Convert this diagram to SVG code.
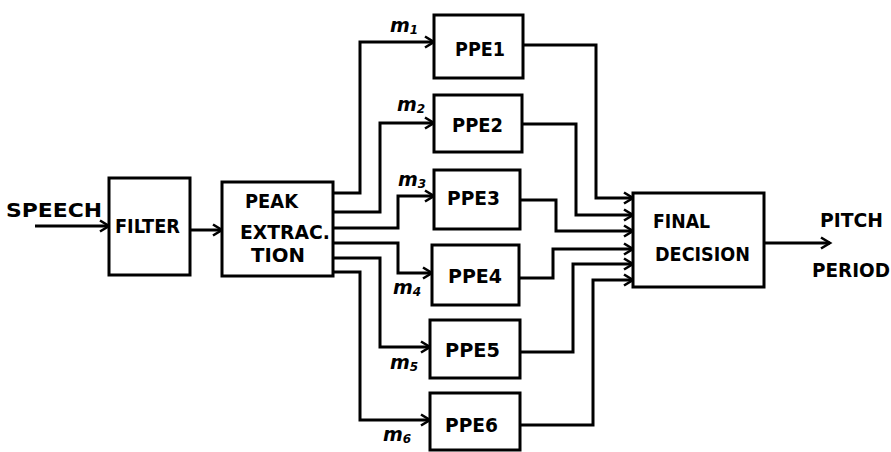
<svg xmlns="http://www.w3.org/2000/svg" width="891" height="452" viewBox="0 0 891 452">
<defs>
<marker id="arr" viewBox="-12 -8 14 16" refX="0" refY="0" markerWidth="14" markerHeight="16" markerUnits="userSpaceOnUse" orient="auto" overflow="visible">
<path d="M-9,-5.5 L0,0 L-9,5.5" fill="none" stroke="#000" stroke-width="2.6" stroke-linejoin="miter"/>
</marker>
</defs>
<style>
.box{fill:#fff;stroke:#000;stroke-width:3}
.lbl{font-family:"DejaVu Sans",sans-serif;font-weight:bold;font-size:19px;fill:#000}
.m{font-family:"DejaVu Sans",sans-serif;font-weight:bold;font-style:italic;font-size:19px;fill:#000}
.w{fill:none;stroke:#000;stroke-width:3;stroke-linejoin:miter}
.a{marker-end:url(#arr)}
</style>
<rect width="891" height="452" fill="#fff"/>
<g id="connectors">
<path class="w a" d="M35,226 L109,226"/>
<path class="w a" d="M190,230 L222,230"/>
<path class="w a" d="M333,193 L360,193 L360,42 L434,42"/>
<path class="w a" d="M333,212 L380,212 L380,123 L434,123"/>
<path class="w a" d="M333,228 L398,228 L398,196 L434,196"/>
<path class="w a" d="M333,243 L398,243 L398,273 L432,273"/>
<path class="w a" d="M333,258 L380,258 L380,347 L430,347"/>
<path class="w a" d="M333,272 L360,272 L360,420 L430,420"/>
<path class="w a" d="M523,45 L596,45 L596,198 L633,198"/>
<path class="w a" d="M522,124 L576,124 L576,215 L633,215"/>
<path class="w a" d="M520,200 L556,200 L556,231 L633,231"/>
<path class="w a" d="M519,278 L553,278 L553,249 L633,249"/>
<path class="w a" d="M520,352 L573,352 L573,264 L633,264"/>
<path class="w a" d="M520,425 L593,425 L593,280 L633,280"/>
<path class="w a" d="M764,243 L830,243"/>
</g>
<g id="speech"><text class="lbl" x="6" y="217" textLength="96" lengthAdjust="spacingAndGlyphs" font-size="23">SPEECH</text></g>
<g id="filter"><rect class="box" x="109" y="178" width="81" height="97"/><text class="lbl" x="115" y="233" textLength="65" lengthAdjust="spacingAndGlyphs">FILTER</text></g>
<g id="peak"><rect class="box" x="222" y="182" width="111" height="94"/>
<text class="lbl" x="245" y="208" textLength="53" lengthAdjust="spacingAndGlyphs">PEAK</text>
<text class="lbl" x="240" y="239" textLength="90" lengthAdjust="spacingAndGlyphs">EXTRAC.</text>
<text class="lbl" x="251" y="262" textLength="54" lengthAdjust="spacingAndGlyphs">TION</text></g>
<g id="ppe1"><rect class="box" x="434" y="15" width="89" height="63"/><text class="lbl" x="455" y="56" textLength="50" lengthAdjust="spacingAndGlyphs">PPE1</text></g>
<g id="ppe2"><rect class="box" x="434" y="95" width="88" height="57"/><text class="lbl" x="452" y="132" textLength="51" lengthAdjust="spacingAndGlyphs">PPE2</text></g>
<g id="ppe3"><rect class="box" x="434" y="170" width="86" height="59"/><text class="lbl" x="447" y="205" textLength="53" lengthAdjust="spacingAndGlyphs">PPE3</text></g>
<g id="ppe4"><rect class="box" x="432" y="245" width="87" height="60"/><text class="lbl" x="448" y="283" textLength="54" lengthAdjust="spacingAndGlyphs">PPE4</text></g>
<g id="ppe5"><rect class="box" x="430" y="320" width="90" height="58"/><text class="lbl" x="445" y="357" textLength="55" lengthAdjust="spacingAndGlyphs">PPE5</text></g>
<g id="ppe6"><rect class="box" x="430" y="393" width="90" height="57"/><text class="lbl" x="445" y="432" textLength="53" lengthAdjust="spacingAndGlyphs">PPE6</text></g>
<g id="final"><rect class="box" x="633" y="193" width="131" height="94"/>
<text class="lbl" x="653" y="228" textLength="57" lengthAdjust="spacingAndGlyphs">FINAL</text>
<text class="lbl" x="655" y="261" textLength="95" lengthAdjust="spacingAndGlyphs">DECISION</text></g>
<g id="pitch"><text class="lbl" x="820" y="227" textLength="63" lengthAdjust="spacingAndGlyphs">PITCH</text>
<text class="lbl" x="812" y="277" textLength="78" lengthAdjust="spacingAndGlyphs">PERIOD</text></g>
<g id="mlabels">
<text class="m" x="390" y="32">m<tspan font-size="12" dy="2">1</tspan></text>
<text class="m" x="397" y="111">m<tspan font-size="12" dy="2">2</tspan></text>
<text class="m" x="398" y="186">m<tspan font-size="12" dy="2">3</tspan></text>
<text class="m" x="393" y="294">m<tspan font-size="12" dy="2">4</tspan></text>
<text class="m" x="390" y="369">m<tspan font-size="12" dy="2">5</tspan></text>
<text class="m" x="383" y="441">m<tspan font-size="12" dy="2">6</tspan></text>
</g>
</svg>
